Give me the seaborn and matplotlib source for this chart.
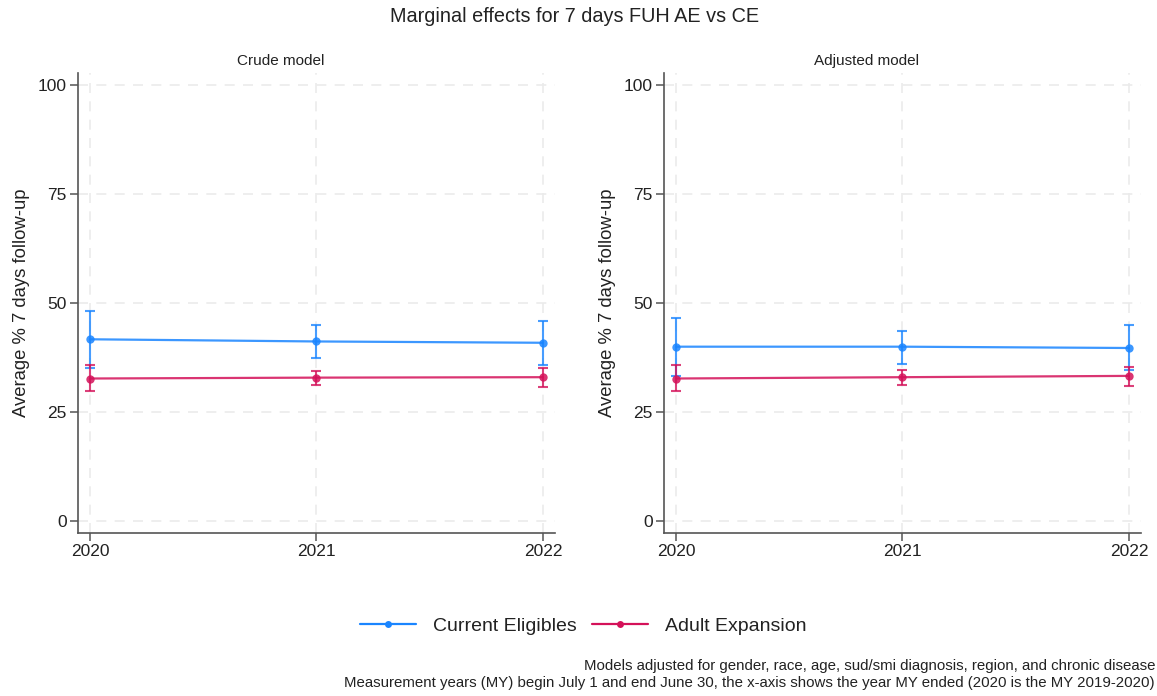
import matplotlib
matplotlib.use("Agg")
import matplotlib.pyplot as plt
import seaborn as sns
import pandas as pd
from matplotlib.lines import Line2D

years = [2020, 2021, 2022]
models = ["Crude model", "Adjusted model"]
groups = ["Current Eligibles", "Adult Expansion"]

crude_ce = [41.7, 41.2, 40.9]
crude_ce_lo = [35.0, 37.5, 35.7]
crude_ce_hi = [48.2, 45.0, 45.9]
crude_ae = [32.7, 32.9, 33.0]
crude_ae_lo = [29.9, 31.2, 30.7]
crude_ae_hi = [35.7, 34.5, 35.1]

adj_ce = [40.0, 40.0, 39.7]
adj_ce_lo = [33.3, 36.1, 34.6]
adj_ce_hi = [46.5, 43.7, 45.0]
adj_ae = [32.7, 33.0, 33.3]
adj_ae_lo = [29.9, 31.3, 31.0]
adj_ae_hi = [35.8, 34.6, 35.4]

colors = {"Current Eligibles": "#1a85ff", "Adult Expansion": "#d41159"}

rows = []
series = {
    ("Crude model", "Current Eligibles"): (crude_ce, crude_ce_lo, crude_ce_hi),
    ("Crude model", "Adult Expansion"): (crude_ae, crude_ae_lo, crude_ae_hi),
    ("Adjusted model", "Current Eligibles"): (adj_ce, adj_ce_lo, adj_ce_hi),
    ("Adjusted model", "Adult Expansion"): (adj_ae, adj_ae_lo, adj_ae_hi),
}
for (m, g), (v, lo, hi) in series.items():
    for y, a, b, c in zip(years, v, lo, hi):
        rows.append(dict(model=m, group=g, year=y, value=a, lo=b, hi=c))
df = pd.DataFrame(rows)

sns.set_theme(style="white")
plt.rcParams["font.family"] = ["Liberation Sans", "DejaVu Sans"]

fig = plt.figure(figsize=(11.57, 6.96), dpi=100)
W, H = 1157, 696
axes = [
    fig.add_axes([78 / W, 1 - 533 / H, (555 - 78) / W, (533 - 73) / H]),
    fig.add_axes([664 / W, 1 - 533 / H, (1141 - 664) / W, (533 - 73) / H]),
]
title_x = [0.4256, 0.4235]

for ax, m, tx in zip(axes, models, title_x):
    sub = df[df.model == m]
    for g in groups:
        s = sub[sub.group == g]
        ax.errorbar(s.year, s.value, yerr=[s.value - s.lo, s.hi - s.value],
                    fmt="none", ecolor=colors[g], elinewidth=1.5, capsize=3.5,
                    capthick=1.5, alpha=0.8, zorder=3)
    sns.lineplot(data=sub, x="year", y="value", hue="group", hue_order=groups,
                 palette=colors, marker="o", markersize=6, markeredgewidth=0,
                 linewidth=1.6, alpha=0.85, ax=ax, legend=False, zorder=4)
    ax.set_xlim(2019.947, 2022.053)
    ax.set_ylim(-2.75, 102.8)
    ax.set_xticks(years)
    ax.set_xticklabels([str(y) for y in years])
    ax.set_yticks([0, 25, 50, 75, 100])
    ax.grid(True, color="#ebebeb", linestyle=(0, (6, 5)), linewidth=1.2)
    ax.set_axisbelow(True)
    for sp in ["top", "right"]:
        ax.spines[sp].set_visible(False)
    for sp in ["left", "bottom"]:
        ax.spines[sp].set_color("#555555")
        ax.spines[sp].set_linewidth(1.2)
    ax.tick_params(axis="both", which="major", direction="out", length=6,
                   width=1.1, color="#555555", labelsize=12.5, labelcolor="#222222",
                   left=True, bottom=True, pad=2)
    ax.set_xlabel("")
    ax.set_ylabel("Average % 7 days follow-up", fontsize=13.3, color="#222222",
                  labelpad=6)
    ax.set_title(m, fontsize=11, color="#222222", pad=6, x=tx)

fig.text(0.497, 1 - 17 / H, "Marginal effects for 7 days FUH AE vs CE",
         ha="center", va="center", fontsize=14.3, color="#222222")

handles = [Line2D([0], [0], color=colors[g], marker="o", markersize=5,
                  linewidth=1.6, markeredgewidth=0) for g in groups]
fig.legend(handles, groups, loc="center", bbox_to_anchor=(583 / W, 1 - 626 / H),
           ncol=2, frameon=False, fontsize=14, handlelength=2.9,
           columnspacing=0.8, handletextpad=0.85, labelcolor="#222222")

fig.text(1 - 2 / W, 1 - 666 / H,
         "Models adjusted for gender, race, age, sud/smi diagnosis, region, and chronic disease",
         ha="right", va="center", fontsize=10.8, color="#222222")
fig.text(1 - 2 / W, 1 - 683 / H,
         "Measurement years (MY) begin July 1 and end June 30, the x-axis shows the year MY ended (2020 is the MY 2019-2020)",
         ha="right", va="center", fontsize=10.8, color="#222222")

fig.savefig("out.png", dpi=100)
